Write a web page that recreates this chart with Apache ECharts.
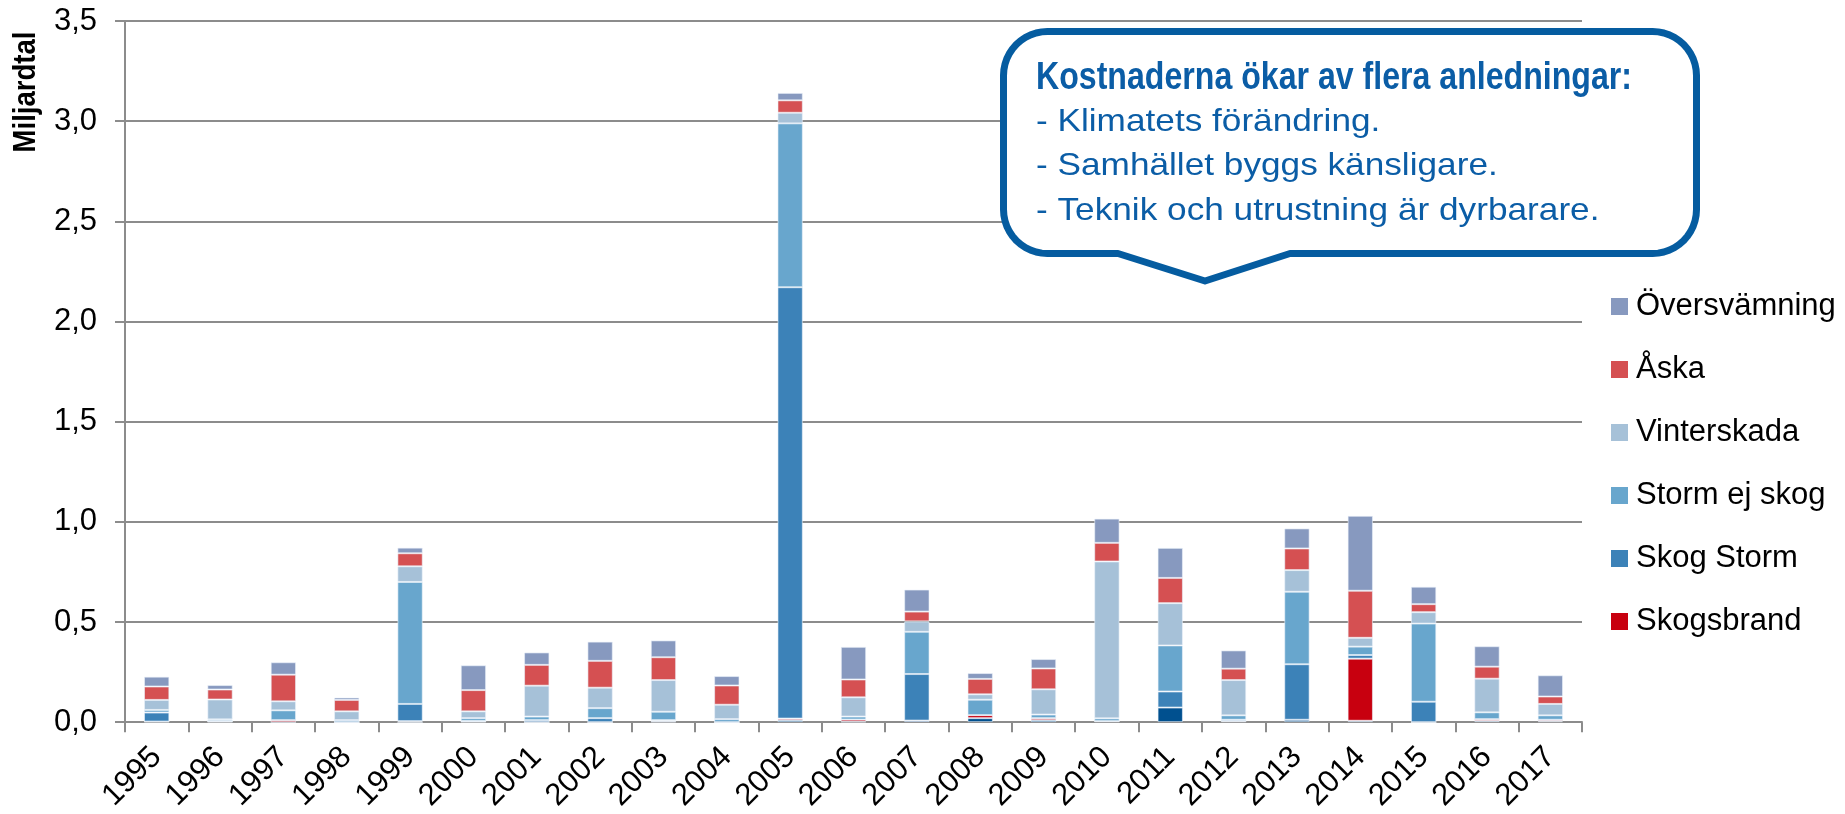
<!DOCTYPE html>
<html>
<head>
<meta charset="utf-8">
<script src="https://cdn.jsdelivr.net/npm/echarts@6/dist/echarts.min.js"></script>
<style>
html,body{margin:0;padding:0;background:#fff;}
#chart{width:1845px;height:814px;}
</style>
</head>
<body>
<div id="chart"></div>
<script>
// ---- Data (Miljardtal) ----
const years = ['1995','1996','1997','1998','1999','2000','2001','2002','2003','2004','2005','2006','2007','2008','2009','2010','2011','2012','2013','2014','2015','2016','2017'];
const yTicks = [0, 0.5, 1.0, 1.5, 2.0, 2.5, 3.0, 3.5];
const ovrigt       = [0.003,0.003,0,0,0,0.003,0,0,0.003,0,0.010,0.003,0.008,0.020,0.010,0.005,0.073,0.005,0.012,0.007,0,0.007,0.005];
const skogsbrand   = [0,0,0.010,0,0.005,0,0,0,0.003,0,0.008,0.010,0,0.015,0.010,0,0,0,0,0.310,0,0.008,0.007];
const skogStorm    = [0.045,0.003,0,0,0.086,0.003,0.010,0.020,0.004,0,2.153,0,0.232,0,0,0,0.080,0.007,0.277,0.018,0.102,0,0];
const stormEjSkog  = [0.013,0.008,0.049,0.010,0.609,0.014,0.018,0.050,0.042,0.015,0.818,0.015,0.211,0.077,0.018,0.014,0.230,0.022,0.362,0.042,0.390,0.034,0.022];
const vinterskada  = [0.050,0.099,0.045,0.044,0.078,0.034,0.154,0.102,0.158,0.072,0.053,0.096,0.052,0.027,0.126,0.783,0.211,0.176,0.108,0.044,0.057,0.168,0.057];
const aska         = [0.067,0.050,0.133,0.057,0.065,0.106,0.104,0.134,0.114,0.096,0.062,0.089,0.049,0.077,0.104,0.093,0.126,0.057,0.108,0.235,0.040,0.060,0.037];
const oversvamning = [0.049,0.022,0.062,0.012,0.028,0.124,0.062,0.096,0.084,0.047,0.037,0.163,0.110,0.029,0.047,0.121,0.150,0.091,0.100,0.374,0.087,0.102,0.106];

const calloutTitle = 'Kostnaderna ökar av flera anledningar:';
const calloutLines = ['- Klimatets förändring.', '- Samhället byggs känsligare.', '- Teknik och utrustning är dyrbarare.'];

const seriesDefs = [
  {name:'Övrigt', data: ovrigt, color:'#00508f'},
  {name:'Skogsbrand', data: skogsbrand, color:'#c8000f'},
  {name:'Skog Storm', data: skogStorm, color:'#3c82b8'},
  {name:'Storm ej skog', data: stormEjSkog, color:'#68a6cd'},
  {name:'Vinterskada', data: vinterskada, color:'#a6c1d8'},
  {name:'Åska', data: aska, color:'#d55052'},
  {name:'Översvämning', data: oversvamning, color:'#8799bf'}
];

const FONT = '"Liberation Sans", Arial, sans-serif';
const chart = echarts.init(document.getElementById('chart'), null, {renderer:'canvas'});

const series = seriesDefs.map(s => ({
  name: s.name,
  type: 'bar',
  stack: 'total',
  barWidth: '40%',
  data: s.data,
  itemStyle: {color: s.color, borderColor: 'rgba(235,242,250,0.6)', borderWidth: 1},
  emphasis: {disabled: true}
}));

// speech-bubble outline (decoration)
function bubblePoints(L, T, R, B, r, px1, tipX, tipY, px2) {
  const pts = [];
  function arc(cx, cy, a0, a1) {
    const n = 12;
    for (let i = 0; i <= n; i++) {
      const a = a0 + (a1 - a0) * i / n;
      pts.push([cx + r * Math.cos(a), cy + r * Math.sin(a)]);
    }
  }
  arc(L + r, T + r, Math.PI, 1.5 * Math.PI);
  arc(R - r, T + r, 1.5 * Math.PI, 2 * Math.PI);
  arc(R - r, B - r, 0, 0.5 * Math.PI);
  pts.push([px2, B]); pts.push([tipX, tipY]); pts.push([px1, B]);
  arc(L + r, B - r, 0.5 * Math.PI, Math.PI);
  return pts;
}

const bodyY = [122, 166, 211];
const graphic = [
  {
    type: 'polygon', z: 100,
    shape: {points: bubblePoints(1003.5, 31.5, 1696.5, 253.5, 44, 1118, 1205, 281, 1290)},
    style: {fill: '#ffffff', stroke: '#055ca0', lineWidth: 7, lineJoin: 'round'}
  },
  {
    type: 'text', z: 101, x: 1036, y: 79, scaleX: 0.845,
    style: {text: calloutTitle, fill: '#0b5da6', font: 'bold 38px ' + FONT, verticalAlign: 'middle', align: 'left'}
  }
].concat(calloutLines.map((t, i) => ({
  type: 'text', z: 101, x: 1036, y: bodyY[i], scaleX: 1.1,
  style: {text: t, fill: '#0b5da6', font: '32px ' + FONT, verticalAlign: 'middle', align: 'left'}
}))).concat([
  {
    type: 'text', z: 101, x: 26, y: 92, rotation: Math.PI / 2, scaleX: 0.86,
    style: {text: 'Miljardtal', fill: '#000', font: 'bold 32px ' + FONT, verticalAlign: 'middle', align: 'center'}
  }
]);

chart.setOption({
  animation: false,
  backgroundColor: '#ffffff',
  grid: {left: 125, right: 263, top: 21, bottom: 91, containLabel: false},
  legend: {
    orient: 'vertical',
    left: 1611, top: 291,
    itemWidth: 17, itemHeight: 17, itemGap: 32,
    padding: 0,
    icon: 'rect',
    data: ['Översvämning', 'Åska', 'Vinterskada', 'Storm ej skog', 'Skog Storm', 'Skogsbrand'],
    itemStyle: {borderWidth: 0},
    textStyle: {fontSize: 31, lineHeight: 31, color: '#000', fontFamily: FONT, padding: [0,0,0,3]},
    selectedMode: false
  },
  xAxis: {
    type: 'category',
    data: years,
    axisLine: {lineStyle: {color: '#8c8c8c', width: 2}},
    axisTick: {show: true, length: 10, lineStyle: {color: '#8c8c8c', width: 2}},
    axisLabel: {rotate: 45, fontSize: 31, color: '#000', fontFamily: FONT, margin: 30, interval: 0}
  },
  yAxis: {
    type: 'value',
    min: yTicks[0], max: yTicks[yTicks.length - 1], interval: 0.5,
    axisLine: {show: true, lineStyle: {color: '#8c8c8c', width: 2}},
    axisTick: {show: true, length: 10, lineStyle: {color: '#8c8c8c', width: 2}},
    splitLine: {lineStyle: {color: '#8c8c8c', width: 2}},
    axisLabel: {fontSize: 31, color: '#000', fontFamily: FONT, margin: 28,
      formatter: v => v.toFixed(1).replace('.', ',')}
  },
  graphic: graphic,
  series: series
});
</script>
</body>
</html>
